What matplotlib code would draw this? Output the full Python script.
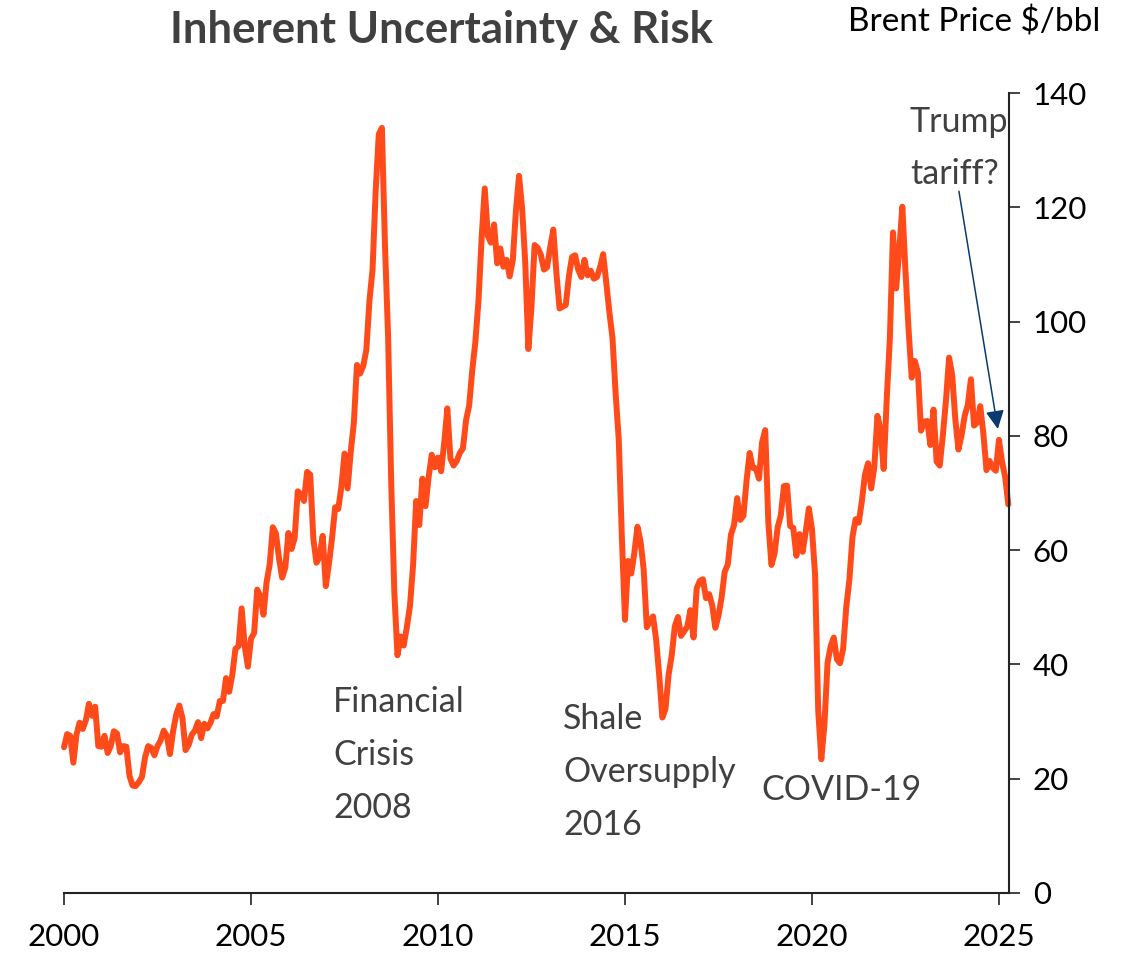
import numpy as np
import matplotlib.pyplot as plt

# monthly Brent price, $/bbl, Jan 2000 - Apr 2025
brent = {
    2000: [25.5, 27.8, 27.5, 22.8, 27.7, 29.8, 28.7, 30.2, 33.1, 31.0, 32.6, 25.7],
    2001: [25.6, 27.5, 24.5, 25.7, 28.3, 27.9, 24.6, 25.7, 25.6, 20.5, 18.8, 18.7],
    2002: [19.4, 20.3, 23.7, 25.7, 25.4, 24.1, 25.7, 26.7, 28.4, 27.5, 24.3, 28.3],
    2003: [31.2, 32.8, 30.6, 25.0, 25.9, 27.7, 28.4, 29.9, 27.1, 29.6, 28.8, 29.8],
    2004: [31.3, 30.9, 33.6, 33.6, 37.6, 35.2, 38.2, 42.7, 43.2, 49.8, 43.1, 39.6],
    2005: [44.5, 45.5, 53.1, 51.9, 48.7, 54.4, 57.5, 64.0, 62.9, 58.5, 55.2, 56.9],
    2006: [63.0, 60.2, 62.1, 70.3, 69.8, 68.6, 73.7, 73.2, 62.0, 57.8, 58.8, 62.5],
    2007: [53.7, 57.6, 62.1, 67.5, 67.2, 71.1, 76.9, 70.8, 77.2, 82.3, 92.4, 90.9],
    2008: [92.2, 95.0, 103.6, 109.1, 122.8, 132.8, 133.9, 113.2, 97.2, 71.6, 52.5, 41.6],
    2009: [44.9, 43.3, 46.5, 50.2, 57.3, 68.6, 64.4, 72.5, 67.7, 72.8, 76.7, 74.5],
    2010: [76.2, 73.8, 78.8, 84.8, 76.0, 74.8, 75.6, 77.0, 77.8, 82.7, 85.3, 91.5],
    2011: [96.5, 103.7, 114.6, 123.3, 115.0, 113.8, 117.0, 110.2, 112.8, 109.6, 110.8, 107.9],
    2012: [110.7, 119.3, 125.5, 119.8, 110.3, 95.2, 102.6, 113.4, 112.9, 111.7, 109.1, 109.5],
    2013: [113.0, 116.1, 108.5, 102.3, 102.6, 102.9, 107.9, 111.3, 111.6, 109.1, 107.8, 110.8],
    2014: [108.1, 108.9, 107.5, 107.8, 109.5, 111.8, 106.8, 101.6, 97.1, 87.4, 79.4, 62.3],
    2015: [47.8, 58.1, 55.9, 59.5, 64.1, 61.5, 56.6, 46.5, 47.6, 48.4, 44.3, 38.0],
    2016: [30.7, 32.2, 38.2, 41.6, 46.7, 48.3, 45.0, 45.8, 46.6, 49.5, 44.7, 53.3],
    2017: [54.6, 54.9, 51.6, 52.3, 50.3, 46.4, 48.5, 51.7, 56.2, 57.5, 62.7, 64.4],
    2018: [69.1, 65.3, 66.0, 72.1, 77.0, 74.4, 74.3, 72.5, 78.9, 81.0, 64.8, 57.4],
    2019: [59.4, 64.0, 66.1, 71.2, 71.3, 64.2, 63.9, 59.0, 62.8, 59.7, 63.2, 67.3],
    2020: [63.7, 55.7, 32.0, 23.4, 29.4, 40.3, 43.2, 44.7, 40.9, 40.2, 42.7, 50.0],
    2021: [54.8, 62.3, 65.4, 64.8, 68.5, 73.2, 75.2, 70.8, 74.5, 83.5, 81.1, 74.2],
    2022: [86.5, 97.1, 115.6, 105.8, 112.4, 120.1, 108.9, 98.6, 90.2, 93.1, 91.1, 80.9],
    2023: [82.5, 82.6, 78.4, 84.6, 75.5, 74.8, 80.1, 86.2, 93.7, 90.6, 82.9, 77.6],
    2024: [80.1, 83.5, 85.4, 89.9, 81.8, 82.3, 85.2, 80.4, 74.0, 75.6, 74.4, 73.9],
    2025: [79.3, 75.4, 72.8, 68.0],
}

dates = []
prices = []
for yr, vals in brent.items():
    for m, v in enumerate(vals):
        dates.append(yr + m / 12)
        prices.append(v)

notes = [
    ("Financial\nCrisis\n2008", 2007.19, 13.2),
    ("Shale\nOversupply\n2016", 2013.34, 10.2),
    ("COVID-19", 2018.66, 16.3),
    ("Trump\ntariff?", 2022.62, 124.0),
]

plt.rcParams['font.family'] = ['Lato', 'DejaVu Sans']

fig = plt.figure(figsize=(11.33, 9.58), dpi=100)
ax = fig.add_axes([0.0565, 0.0679, 0.8341, 0.8350])

ax.plot(dates, prices, color='#FF4A1A', lw=4.3, solid_joinstyle='round',
        solid_capstyle='round', clip_on=False)

ax.set_xlim(2000, 2025.27)
ax.set_ylim(0, 140)
ax.set_xticks([2000, 2005, 2010, 2015, 2020, 2025])
ax.set_yticks(range(0, 141, 20))
ax.yaxis.tick_right()

for s in ['top', 'left']:
    ax.spines[s].set_visible(False)
for s in ['bottom', 'right']:
    ax.spines[s].set_linewidth(1.5)
    ax.spines[s].set_color('#222222')

ax.tick_params(axis='x', direction='out', length=8.5, width=1.2, pad=13,
               labelsize=22.5, colors='#222222', labelcolor='black')
ax.tick_params(axis='y', direction='out', length=8, width=1.2, pad=9,
               labelsize=22.5, colors='#222222', labelcolor='black')

for txt, x, y in notes:
    ax.text(x, y, txt, fontsize=24.5, color='#404040', ha='left', va='baseline',
            linespacing=1.8)

ax.annotate('', xy=(2024.97, 81.2), xytext=(2023.93, 122.8),
            arrowprops=dict(arrowstyle='-|>', color='#0B3A6E', lw=1.1,
                            mutation_scale=28, shrinkA=0, shrinkB=0))

fig.text(0.39, 0.969, 'Inherent Uncertainty & Risk', fontsize=31.5,
         fontweight='bold', color='#404040', ha='center', va='center')
fig.text(0.971, 0.977, 'Brent Price $/bbl', fontsize=24, color='black',
         ha='right', va='center')

fig.savefig('out.png', dpi=100)
